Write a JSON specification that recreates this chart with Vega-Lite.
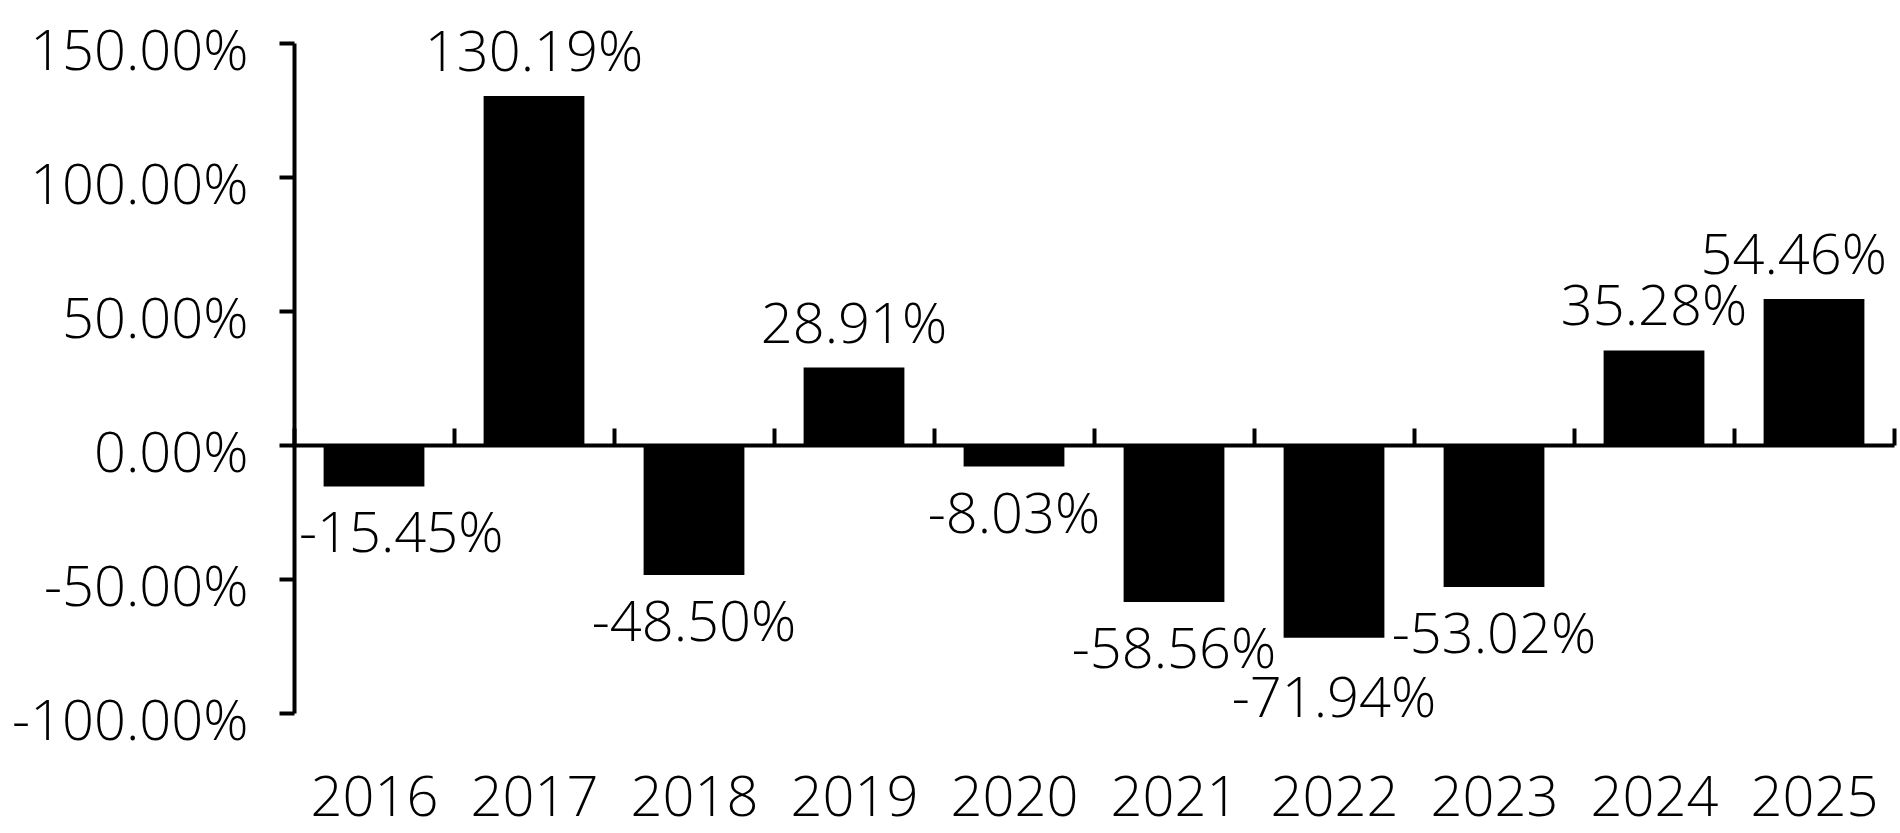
{
  "$schema": "https://vega.github.io/schema/vega-lite/v6.json",
  "width": 1600,
  "height": 670,
  "autosize": "none",
  "padding": {"left": 294, "top": 43, "right": 6, "bottom": 120},
  "background": "white",
  "config": {
    "view": {"stroke": null},
    "font": "Open Sans",
    "locale": {"number": {"decimal": ".", "thousands": ",", "grouping": [3], "currency": ["$", ""], "minus": "-", "percent": "%"}}
  },
  "data": {
    "values": [
      {"year": "2016", "v": -0.1545},
      {"year": "2017", "v": 1.3019},
      {"year": "2018", "v": -0.485},
      {"year": "2019", "v": 0.2891},
      {"year": "2020", "v": -0.0803},
      {"year": "2021", "v": -0.5856},
      {"year": "2022", "v": -0.7194},
      {"year": "2023", "v": -0.5302},
      {"year": "2024", "v": 0.3528},
      {"year": "2025", "v": 0.5446}
    ]
  },
  "encoding": {
    "x": {
      "field": "year",
      "type": "ordinal",
      "sort": null,
      "scale": {"paddingInner": 0, "paddingOuter": 0},
      "axis": {
        "title": null,
        "labelAngle": 0,
        "labelFont": "Open Sans",
        "labelFontWeight": 300,
        "labelFontSize": 56,
        "labelColor": "black",
        "labelBaseline": "middle",
        "labelPadding": 370,
        "labelLimit": 0,
        "domainColor": "black",
        "domainWidth": 4,
        "tickColor": "black",
        "tickWidth": 4,
        "tickSize": -17,
        "tickBand": "extent",
        "offset": -268,
        "grid": false
      }
    }
  },
  "layer": [
    {
      "mark": {"type": "bar", "color": "black", "width": {"band": 0.63}},
      "encoding": {
        "y": {
          "field": "v",
          "type": "quantitative",
          "scale": {"domain": [-1, 1.5], "nice": false, "zero": true},
          "axis": {
            "title": null,
            "values": [-1, -0.5, 0, 0.5, 1, 1.5],
            "format": ".2%",
            "grid": false,
            "labelFont": "Open Sans",
            "labelFontWeight": 300,
            "labelFontSize": 56,
            "labelColor": "black",
            "labelPadding": 31,
            "labelOffset": 9,
            "labelLimit": 0,
            "domainColor": "black",
            "domainWidth": 4,
            "tickColor": "black",
            "tickWidth": 4,
            "tickSize": 15
          }
        }
      }
    },
    {
      "mark": {
        "type": "text",
        "font": "Open Sans",
        "fontWeight": 300,
        "fontSize": 56,
        "color": "black",
        "baseline": "middle",
        "align": {"expr": "datum.year == '2016' ? 'left' : datum.year == '2025' ? 'right' : 'center'"},
        "dx": {"expr": "datum.year == '2016' ? -75 : datum.year == '2025' ? 73 : 0"},
        "dy": {"expr": "datum.v >= 0 ? -42 : (datum.year == '2022' ? 62 : 49)"}
      },
      "encoding": {
        "y": {"field": "v", "type": "quantitative"},
        "text": {"field": "v", "type": "quantitative", "format": ".2%"}
      }
    }
  ]
}
